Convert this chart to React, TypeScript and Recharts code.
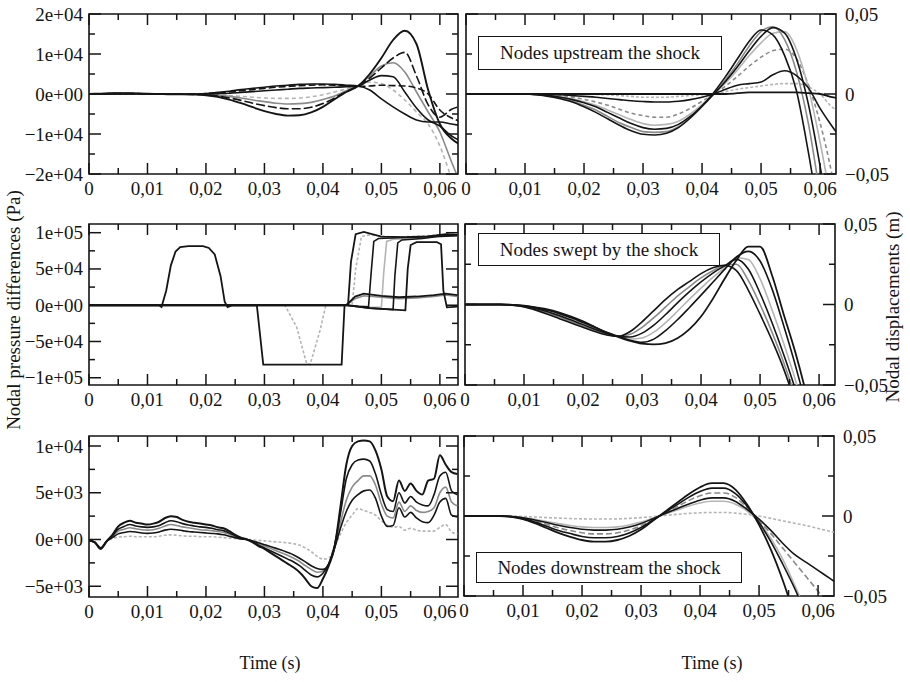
import React from 'react';
import {LineChart, Line, XAxis, YAxis, ReferenceArea} from 'recharts';

const FONT = '"Liberation Serif", "Times New Roman", serif';
const INK = '#151515';
const GREY = '#8a8a8a';
const PALE = '#b5b5b5';

// time grids (s)
const TIME_2MS = [
  0, 0.002, 0.004, 0.006, 0.008, 0.01, 0.012, 0.014, 0.016, 0.018, 0.02, 0.022, 0.024, 0.026, 0.028, 0.03, 0.032,
  0.034, 0.036, 0.038, 0.04, 0.042, 0.044, 0.046, 0.048, 0.05, 0.052, 0.054, 0.056, 0.058, 0.06, 0.062, 0.064
];
const TIME_1MS = [
  0, 0.001, 0.002, 0.003, 0.004, 0.005, 0.006, 0.007, 0.008, 0.009, 0.01, 0.011, 0.012, 0.013, 0.014, 0.015, 0.016,
  0.017, 0.018, 0.019, 0.02, 0.021, 0.022, 0.023, 0.024, 0.025, 0.026, 0.027, 0.028, 0.029, 0.03, 0.031, 0.032,
  0.033, 0.034, 0.035, 0.036, 0.037, 0.038, 0.039, 0.04, 0.041, 0.042, 0.043, 0.044, 0.045, 0.046, 0.047, 0.048,
  0.049, 0.05, 0.051, 0.052, 0.053, 0.054, 0.055, 0.056, 0.057, 0.058, 0.059, 0.06, 0.061, 0.062, 0.063
];

const TIME_TICKS = [0, 0.005, 0.01, 0.015, 0.02, 0.025, 0.03, 0.035, 0.04, 0.045, 0.05, 0.055, 0.06];
const UP_PRESSURE_TICKS = [-20000, -15000, -10000, -5000, 0, 5000, 10000, 15000, 20000];
const SWEPT_PRESSURE_TICKS = [-100000, -75000, -50000, -25000, 0, 25000, 50000, 75000, 100000];
const DOWN_PRESSURE_TICKS = [-5000, -2500, 0, 2500, 5000, 7500, 10000];
const DISP_TICKS = [-0.05, -0.025, 0, 0.025, 0.05];

// nodes upstream the shock: pressure differences (Pa), on TIME_2MS
const UP_P1 = [0, 100, 200, 200, 150, 100, 0, -100, -100, -150, -300, -700, -1400, -2300, -3300, -4300, -5000, -5400, -5300, -4600, -3200, -1300, 500, 2000, 5000, 9000, 13500, 15800, 12500, 1000, -7500, -11200, -13000];
const UP_P2 = [0, 50, 100, 100, 100, 50, 0, 0, -50, -100, -200, -500, -1000, -1600, -2300, -2900, -3400, -3700, -3700, -3300, -2400, -1000, 600, 2000, 4000, 6500, 9000, 10400, 4500, -2700, -5800, -3800, -3000];
const UP_P3 = [0, 50, 100, 100, 50, 0, 0, 0, -50, -50, -100, -300, -600, -1000, -1500, -1900, -2300, -2500, -2400, -2100, -1400, -500, 800, 2000, 4500, 7000, 7800, 5500, 500, -4500, -9500, -17000, -24000];
const UP_P4 = [0, 0, 100, 100, 100, 50, 0, -50, -50, -50, 0, 100, 200, 400, 600, 800, 1000, 1200, 1400, 1500, 1600, 1700, 1800, 2000, 3500, 4600, 4300, 500, -3500, -6500, -8000, -10500, -12000];
const UP_P5 = [0, 0, 50, 50, 50, 0, 0, -50, -50, 0, 100, 300, 500, 800, 1100, 1400, 1700, 1900, 2100, 2200, 2300, 2200, 2000, 1900, 2000, 2200, 2100, 2000, 1500, 0, -4000, -6000, -7000];
const UP_P6 = [0, 0, 50, 50, 50, 0, 0, -50, -50, 0, 100, 400, 700, 1100, 1400, 1700, 2000, 2200, 2400, 2500, 2500, 2400, 2200, 2000, 1000, -1200, -3200, -5000, -6500, -7000, -7000, -7500, -8000];
const UP_P7 = [0, 0, 50, 50, 50, 0, 0, 0, -50, -50, -100, -200, -400, -600, -800, -1000, -1100, -1100, -1000, -700, -200, 500, 1300, 2000, 3000, 2600, 1000, -1500, -4500, -7500, -13000, -21000, -28000];

// nodes upstream the shock: displacements (m), on TIME_2MS
const UP_D1 = [0, 0, 0, 0, 0, 0, -0.0005, -0.0015, -0.003, -0.005, -0.008, -0.0115, -0.0155, -0.0195, -0.023, -0.0252, -0.0256, -0.0245, -0.021, -0.015, -0.0075, 0.001, 0.011, 0.022, 0.033, 0.04, 0.037, 0.024, 0.002, -0.036, -0.08, -0.12, -0.16];
const UP_D2 = [0, 0, 0, 0, 0, 0, -0.0004, -0.0012, -0.0025, -0.0045, -0.007, -0.01, -0.014, -0.018, -0.021, -0.0235, -0.024, -0.0235, -0.0205, -0.015, -0.008, 0, 0.009, 0.019, 0.03, 0.039, 0.042, 0.034, 0.014, -0.018, -0.062, -0.1, -0.14];
const UP_D3 = [0, 0, 0, 0, 0, 0, -0.0003, -0.001, -0.002, -0.0035, -0.0055, -0.008, -0.0115, -0.015, -0.0185, -0.021, -0.022, -0.0215, -0.019, -0.014, -0.0075, 0, 0.008, 0.017, 0.027, 0.036, 0.0415, 0.038, 0.022, -0.006, -0.045, -0.09, -0.13];
const UP_D4 = [0, 0, 0, 0, 0, 0, -0.0003, -0.0008, -0.0017, -0.003, -0.0048, -0.007, -0.01, -0.013, -0.016, -0.0185, -0.0195, -0.019, -0.017, -0.0125, -0.0065, 0, 0.007, 0.015, 0.024, 0.032, 0.038, 0.039, 0.028, 0.004, -0.03, -0.07, -0.11];
const UP_D5 = [0, 0, 0, 0, 0, 0, -0.0002, -0.0005, -0.001, -0.002, -0.0033, -0.005, -0.007, -0.0095, -0.012, -0.0135, -0.0145, -0.0145, -0.0125, -0.009, -0.0045, 0, 0.005, 0.011, 0.0175, 0.023, 0.027, 0.028, 0.022, 0.006, -0.018, -0.05, -0.09];
const UP_D6 = [0, 0, 0, 0, 0, 0, 0, -0.0002, -0.0005, -0.001, -0.0015, -0.002, -0.0028, -0.0035, -0.0042, -0.0047, -0.005, -0.005, -0.0045, -0.0035, -0.002, 0, 0.003, 0.0055, 0.0065, 0.0075, 0.012, 0.0145, 0.0115, 0.004, -0.009, -0.02, -0.03];
const UP_D7 = [0, 0, 0, 0, 0, 0, 0, 0, 0, 0, 0, -0.0003, -0.0005, -0.001, -0.0015, -0.002, -0.002, -0.002, -0.0015, -0.001, -0.0005, 0, 0.0015, 0.003, 0.004, 0.005, 0.006, 0.0065, 0.0065, 0.0045, 0, -0.008, -0.012];
const UP_D8 = [0, 0, 0, 0, 0, 0, 0, 0, 0, 0, 0, 0, 0, 0, 0, 0, 0, 0, 0, 0, 0, 0, 0, 0.0005, 0.001, 0.001, 0.001, 0.001, 0.001, 0.0005, 0, -0.002, -0.003];

// nodes swept by the shock: pressure differences (Pa), each with its own times
const SW_P1_T = [0, 0.012, 0.0124, 0.0132, 0.014, 0.0148, 0.0156, 0.017, 0.0195, 0.0205, 0.0215, 0.0225, 0.0232, 0.0237, 0.0245, 0.044, 0.0455, 0.047, 0.05, 0.053, 0.056, 0.059, 0.061, 0.063];
const SW_P1_V = [0, 0, -2500, 20000, 55000, 74000, 80000, 81500, 81500, 79000, 70000, 40000, 5000, -2500, 0, 0, 12000, 16000, 13000, 11000, 12000, 14000, 16000, 14000];
const SW_P2_T = [0, 0.0287, 0.0298, 0.0432, 0.0437, 0.0443, 0.0448, 0.0456, 0.047, 0.05, 0.054, 0.058, 0.061, 0.063];
const SW_P2_V = [0, 0, -82000, -82000, 0, 1000, 60000, 98000, 101000, 94500, 94000, 95000, 98000, 97000];
const SW_P3_T = [0, 0.0335, 0.0355, 0.0372, 0.0378, 0.0395, 0.0405, 0.045, 0.0456, 0.0466, 0.048, 0.052, 0.056, 0.06, 0.063];
const SW_P3_V = [0, 0, -30000, -80000, -82000, -35000, 0, 0, 50000, 95000, 97000, 94000, 95000, 97000, 98000];
const SW_P4_T = [0, 0.044, 0.046, 0.0478, 0.0482, 0.0487, 0.0495, 0.053, 0.057, 0.06, 0.063];
const SW_P4_V = [0, 0, -1500, -2000, 40000, 88000, 92000, 93000, 94000, 96000, 97000];
const SW_P5_T = [0, 0.044, 0.048, 0.05, 0.0504, 0.0509, 0.052, 0.056, 0.06, 0.063];
const SW_P5_V = [0, 0, -2500, -3000, 45000, 88000, 91000, 92000, 95000, 96000];
const SW_P6_T = [0, 0.044, 0.048, 0.052, 0.0523, 0.0528, 0.0535, 0.057, 0.06, 0.063];
const SW_P6_V = [0, 0, -4000, -6000, 40000, 86000, 90000, 92000, 95000, 96000];
const SW_P7_T = [0, 0.044, 0.048, 0.0541, 0.0545, 0.055, 0.056, 0.0595, 0.0602, 0.0606, 0.0612, 0.063];
const SW_P7_V = [0, 0, -4000, -7000, 50000, 83000, 87000, 87000, 84000, 20000, -3000, -2000];
const SW_P8_T = [0, 0.044, 0.0455, 0.047, 0.05, 0.053, 0.056, 0.059, 0.061, 0.063];
const SW_P8_V = [0, 0, 9000, 13000, 11000, 9000, 10000, 12000, 14000, 12000];

// nodes swept by the shock: displacements (m), on TIME_2MS
const SW_D1 = [0, 0, 0, 0, -0.0005, -0.0015, -0.0035, -0.006, -0.0088, -0.0115, -0.0142, -0.0168, -0.019, -0.0198, -0.0168, -0.0108, -0.0038, 0.0032, 0.0092, 0.0142, 0.0192, 0.0228, 0.0243, 0.021, 0.009, -0.006, -0.022, -0.04, -0.062, -0.09, -0.12, -0.15, -0.18];
const SW_D2 = [0, 0, 0, 0, -0.0004, -0.0012, -0.003, -0.0052, -0.0078, -0.0105, -0.0133, -0.016, -0.0185, -0.0198, -0.0185, -0.0142, -0.0082, -0.0015, 0.0052, 0.011, 0.0165, 0.021, 0.0243, 0.025, 0.015, 0, -0.017, -0.036, -0.058, -0.085, -0.115, -0.145, -0.175];
const SW_D3 = [0, 0, 0, 0, -0.0003, -0.001, -0.0025, -0.0045, -0.007, -0.0097, -0.0125, -0.0153, -0.018, -0.0198, -0.0202, -0.0178, -0.0128, -0.0062, 0.001, 0.0078, 0.014, 0.0195, 0.024, 0.028, 0.022, 0.007, -0.011, -0.031, -0.053, -0.08, -0.11, -0.14, -0.17];
const SW_D4 = [0, 0, 0, 0, -0.0003, -0.0009, -0.0022, -0.004, -0.0063, -0.009, -0.0118, -0.0147, -0.0175, -0.0198, -0.0214, -0.0208, -0.0172, -0.0112, -0.0042, 0.0032, 0.0102, 0.0168, 0.023, 0.029, 0.028, 0.016, -0.003, -0.024, -0.047, -0.074, -0.105, -0.135, -0.165];
const SW_D5 = [0, 0, 0, 0, -0.0002, -0.0008, -0.002, -0.0036, -0.0057, -0.0083, -0.0112, -0.0142, -0.0172, -0.0198, -0.0222, -0.0235, -0.0215, -0.0162, -0.0095, -0.002, 0.0058, 0.0138, 0.0218, 0.0295, 0.033, 0.027, 0.01, -0.013, -0.038, -0.066, -0.098, -0.13, -0.16];
const SW_D6 = [0, 0, 0, 0, -0.0002, -0.0007, -0.0018, -0.003, -0.005, -0.0075, -0.0105, -0.014, -0.0175, -0.0202, -0.0226, -0.0243, -0.0248, -0.024, -0.021, -0.0155, -0.0075, 0.0035, 0.016, 0.0275, 0.036, 0.036, 0.0185, -0.006, -0.03, -0.058, -0.09, -0.12, -0.15];

// nodes downstream the shock: pressure differences (Pa), on TIME_1MS
const DN_P1 = [-100, -300, -1000, -200, 500, 1400, 1800, 2000, 1800, 1700, 1600, 1700, 1900, 2300, 2500, 2400, 2100, 1900, 1800, 1700, 1600, 1500, 1300, 1200, 900, 500, 200, 0, -300, -700, -1000, -1400, -1800, -2200, -2600, -3000, -3500, -4200, -5000, -5200, -4200, -2800, -800, 3500, 8000, 10000, 10500, 10600, 10500, 9500, 7500, 4600, 4100, 6300, 5200, 6000, 5200, 4800, 6300, 6500, 9000, 8000, 7200, 7000];
const DN_P2 = [-100, -300, -1000, -200, 400, 1100, 1400, 1600, 1450, 1350, 1300, 1350, 1500, 1800, 2000, 1900, 1700, 1550, 1450, 1350, 1300, 1200, 1050, 950, 700, 400, 150, 0, -250, -600, -900, -1200, -1500, -1800, -2100, -2400, -2800, -3300, -3800, -4000, -3600, -2600, -600, 2800, 6500, 8000, 8500, 8600, 8400, 7000, 4800, 3200, 3000, 5000, 3900, 4600, 4000, 3700, 3600, 4800, 6800, 7200, 5200, 4800];
const DN_P3 = [-100, -300, -900, -200, 300, 900, 1100, 1250, 1150, 1050, 1000, 1050, 1200, 1450, 1600, 1500, 1350, 1250, 1150, 1050, 1000, 950, 850, 750, 550, 300, 100, 0, -200, -450, -700, -950, -1200, -1450, -1700, -2000, -2350, -2800, -3200, -3500, -3400, -2600, -800, 1800, 4200, 5600, 6300, 6800, 6800, 5800, 3800, 2500, 2300, 4000, 3000, 3600, 3100, 2900, 3000, 3400, 5000, 5600, 4000, 3600];
const DN_P4 = [-100, -300, -900, -200, 200, 600, 750, 850, 800, 700, 650, 700, 800, 1000, 1100, 1050, 950, 850, 800, 750, 700, 650, 600, 500, 350, 200, 50, 0, -150, -350, -550, -750, -950, -1150, -1400, -1650, -2000, -2400, -2800, -3100, -3200, -2600, -900, 1200, 3000, 4200, 4800, 5200, 5300, 4400, 2500, 1400, 1500, 3400, 2400, 2900, 2300, 1900, 1800, 2600, 4000, 4400, 2600, 2400];
const DN_P5 = [-100, -300, -800, -200, 100, 250, 300, 350, 300, 300, 300, 300, 350, 450, 500, 450, 400, 350, 350, 300, 300, 300, 250, 200, 150, 100, 50, 0, -50, -100, -150, -200, -250, -300, -350, -450, -600, -900, -1300, -1800, -2100, -2000, -800, 600, 1800, 2600, 3300, 3100, 2900, 2600, 2000, 1500, 1300, 1400, 1000, 1200, 1000, 900, 900, 900, 1300, 1600, 800, 600];

// nodes downstream the shock: displacements (m), on TIME_2MS
const DN_D1 = [0, 0, 0, 0, -0.0005, -0.002, -0.0045, -0.0075, -0.0105, -0.013, -0.015, -0.016, -0.016, -0.015, -0.0125, -0.0085, -0.003, 0.0025, 0.008, 0.0135, 0.018, 0.0205, 0.0205, 0.0165, 0.007, -0.0055, -0.021, -0.04, -0.062, -0.085, -0.11, -0.135, -0.16];
const DN_D2 = [0, 0, 0, 0, -0.0004, -0.0017, -0.0038, -0.0064, -0.009, -0.011, -0.0128, -0.0136, -0.0136, -0.0128, -0.0106, -0.0072, -0.0026, 0.0021, 0.0068, 0.0115, 0.0153, 0.0174, 0.0174, 0.014, 0.006, -0.004, -0.016, -0.03, -0.045, -0.062, -0.08, -0.1, -0.12];
const DN_D3 = [0, 0, 0, 0, -0.0003, -0.0014, -0.0031, -0.0052, -0.0074, -0.0091, -0.0105, -0.0112, -0.0112, -0.0105, -0.0088, -0.006, -0.0021, 0.0017, 0.0056, 0.0095, 0.0126, 0.0144, 0.0144, 0.0116, 0.005, -0.003, -0.011, -0.02, -0.029, -0.038, -0.047, -0.056, -0.065];
const DN_D4 = [0, 0, 0, 0, -0.0003, -0.0011, -0.0025, -0.0041, -0.0058, -0.0072, -0.0083, -0.0088, -0.0088, -0.0083, -0.0069, -0.0047, -0.0017, 0.0014, 0.0044, 0.0074, 0.0099, 0.0113, 0.0113, 0.0091, 0.004, -0.002, -0.009, -0.017, -0.024, -0.029, -0.034, -0.039, -0.044];
const DN_D5 = [0, 0, 0, 0, -0.0002, -0.0009, -0.002, -0.0034, -0.0047, -0.0059, -0.0068, -0.0072, -0.0072, -0.0068, -0.0056, -0.0038, -0.0014, 0.0011, 0.0036, 0.0061, 0.0081, 0.0092, 0.0092, 0.0074, 0.003, -0.004, -0.014, -0.027, -0.043, -0.06, -0.08, -0.1, -0.12];
const DN_D6 = [0, 0, 0, 0, 0, -0.0003, -0.0006, -0.001, -0.0013, -0.0016, -0.0018, -0.0019, -0.0019, -0.0018, -0.0015, -0.001, -0.0004, 0.0003, 0.001, 0.0016, 0.002, 0.0022, 0.0022, 0.0018, 0.001, 0, -0.0015, -0.003, -0.0045, -0.006, -0.0078, -0.0095, -0.011];

type Curve = {t: number[]; v: number[]; color: string; width?: number; dash?: string};

const isMajor = (v: number, step: number) => Math.abs(v / step - Math.round(v / step)) < 1e-6;

const fmtTime = (v: number) => (v === 0 ? '0' : v.toFixed(2).replace('.', ','));
const fmtDisp = (v: number) => (v === 0 ? '0' : (v < 0 ? '\u2212' : '') + Math.abs(v).toFixed(2).replace('.', ','));
const fmtSci = (v: number) => {
  if (v === 0) return '0e+00';
  const a = Math.abs(v);
  const e = Math.floor(Math.log10(a) + 1e-9);
  const m = Math.round(a / Math.pow(10, e));
  return (v < 0 ? '\u2212' : '') + m + 'e+' + String(e).padStart(2, '0');
};

const labelStyle = {fontFamily: FONT, fontSize: 19, fill: INK};

type PanelProps = {
  x: number;
  y: number;
  w: number;
  h: number;
  side: 'left' | 'right';
  xMax: number;
  yDomain: [number, number];
  yTicks: number[];
  yStep: number;
  yFormat: (v: number) => string;
  curves: Curve[];
  shape: 'monotone' | 'linear';
};

const PAD_TOP = 16;

function Panel({x, y, w, h, side, xMax, yDomain, yTicks, yStep, yFormat, curves, shape}: PanelProps) {
  const left = side === 'left';
  const padL = left ? 86 : 24;
  const yW = left ? 80 : 66;
  const chartW = left ? padL + w + 6 : padL + w + yW + 4;
  const chartH = PAD_TOP + h + 34;

  const xTick = (p: any) => {
    const v = p.payload.value as number;
    const major = isMajor(v, 0.01);
    const len = major ? 11 : 6;
    return (
      <g>
        <line x1={p.x} y1={p.y} x2={p.x} y2={p.y - len} stroke={INK} strokeWidth={1.5} />
        <line x1={p.x} y1={p.y - h} x2={p.x} y2={p.y - h + len} stroke={INK} strokeWidth={1.5} />
        {major && (
          <text x={p.x} y={p.y + 21} textAnchor="middle" {...labelStyle}>
            {fmtTime(v)}
          </text>
        )}
      </g>
    );
  };

  const yTick = (p: any) => {
    const v = p.payload.value as number;
    const major = isMajor(v, yStep);
    const len = major ? 12 : 6;
    const dir = left ? 1 : -1;
    const other = p.x + dir * w;
    return (
      <g>
        <line x1={p.x} y1={p.y} x2={p.x + dir * len} y2={p.y} stroke={INK} strokeWidth={1.5} />
        <line x1={other} y1={p.y} x2={other - dir * len} y2={p.y} stroke={INK} strokeWidth={1.5} />
        {major && (
          <text x={p.x - dir * (left ? 6 : 9)} y={p.y} dy={6.5} textAnchor={left ? 'end' : 'start'} {...labelStyle}>
            {yFormat(v)}
          </text>
        )}
      </g>
    );
  };

  return (
    <div style={{position: 'absolute', left: x - padL, top: y - PAD_TOP}}>
      <LineChart width={chartW} height={chartH} margin={{top: PAD_TOP, right: left ? 6 : 4, bottom: 4, left: left ? padL - yW : padL}}>
        <XAxis
          dataKey="t"
          type="number"
          domain={[0, xMax]}
          allowDataOverflow
          ticks={TIME_TICKS}
          interval={0}
          height={30}
          tickSize={0}
          tickMargin={0}
          tickLine={false}
          axisLine={false}
          tick={xTick}
        />
        <YAxis
          type="number"
          orientation={side}
          domain={yDomain}
          allowDataOverflow
          ticks={yTicks}
          interval={0}
          width={yW}
          tickSize={0}
          tickMargin={0}
          tickLine={false}
          axisLine={false}
          tick={yTick}
        />
        {curves.map((c, i) => (
          <Line
            key={i}
            data={c.t.map((t, k) => ({t, v: c.v[k]}))}
            dataKey="v"
            type={shape}
            stroke={c.color}
            strokeWidth={c.width ?? 1.6}
            strokeDasharray={c.dash}
            dot={false}
            activeDot={false}
            isAnimationActive={false}
          />
        ))}
        <ReferenceArea x1={0} x2={xMax} y1={yDomain[0]} y2={yDomain[1]} fill="none" stroke={INK} strokeWidth={1.6} ifOverflow="visible" />
      </LineChart>
    </div>
  );
}

const upPressure: Curve[] = [
  {t: TIME_2MS, v: UP_P7, color: PALE, dash: '4 3'},
  {t: TIME_2MS, v: UP_P3, color: GREY},
  {t: TIME_2MS, v: UP_P5, color: INK, dash: '7 3'},
  {t: TIME_2MS, v: UP_P6, color: INK},
  {t: TIME_2MS, v: UP_P4, color: INK},
  {t: TIME_2MS, v: UP_P2, color: INK, dash: '9 3'},
  {t: TIME_2MS, v: UP_P1, color: INK, width: 1.9}
];
const upDisp: Curve[] = [
  {t: TIME_2MS, v: UP_D7, color: PALE, dash: '3 2'},
  {t: TIME_2MS, v: UP_D5, color: GREY, dash: '4 3'},
  {t: TIME_2MS, v: UP_D4, color: PALE},
  {t: TIME_2MS, v: UP_D2, color: GREY},
  {t: TIME_2MS, v: UP_D8, color: INK, width: 1.8},
  {t: TIME_2MS, v: UP_D6, color: INK},
  {t: TIME_2MS, v: UP_D3, color: INK},
  {t: TIME_2MS, v: UP_D1, color: INK}
];
const sweptPressure: Curve[] = [
  {t: SW_P3_T, v: SW_P3_V, color: PALE, dash: '3 2'},
  {t: SW_P5_T, v: SW_P5_V, color: PALE},
  {t: SW_P8_T, v: SW_P8_V, color: GREY},
  {t: SW_P1_T, v: SW_P1_V, color: INK, width: 1.8},
  {t: SW_P2_T, v: SW_P2_V, color: INK, width: 1.8},
  {t: SW_P4_T, v: SW_P4_V, color: INK},
  {t: SW_P6_T, v: SW_P6_V, color: INK},
  {t: SW_P7_T, v: SW_P7_V, color: INK, width: 1.8}
];
const sweptDisp: Curve[] = [
  {t: TIME_2MS, v: SW_D2, color: GREY},
  {t: TIME_2MS, v: SW_D4, color: PALE},
  {t: TIME_2MS, v: SW_D1, color: INK},
  {t: TIME_2MS, v: SW_D3, color: INK},
  {t: TIME_2MS, v: SW_D5, color: INK},
  {t: TIME_2MS, v: SW_D6, color: INK, width: 1.8}
];
const downPressure: Curve[] = [
  {t: TIME_1MS, v: DN_P5, color: PALE, dash: '3 2'},
  {t: TIME_1MS, v: DN_P3, color: GREY},
  {t: TIME_1MS, v: DN_P4, color: INK},
  {t: TIME_1MS, v: DN_P2, color: INK},
  {t: TIME_1MS, v: DN_P1, color: INK, width: 2}
];
const downDisp: Curve[] = [
  {t: TIME_2MS, v: DN_D6, color: PALE, dash: '3 2'},
  {t: TIME_2MS, v: DN_D5, color: PALE},
  {t: TIME_2MS, v: DN_D3, color: GREY, dash: '6 3'},
  {t: TIME_2MS, v: DN_D4, color: INK},
  {t: TIME_2MS, v: DN_D2, color: INK},
  {t: TIME_2MS, v: DN_D1, color: INK, width: 1.8}
];

const boxStyle = (left: number, top: number, width: number, height: number): React.CSSProperties => ({
  position: 'absolute',
  left,
  top,
  width,
  height,
  boxSizing: 'border-box',
  border: `1.6px solid ${INK}`,
  background: '#fff',
  display: 'flex',
  alignItems: 'center',
  justifyContent: 'center',
  fontFamily: FONT,
  fontSize: 19,
  color: INK,
  whiteSpace: 'nowrap'
});

const titleStyle = (cx: number, cy: number, rotate: number): React.CSSProperties => ({
  position: 'absolute',
  left: cx,
  top: cy,
  transform: `translate(-50%, -50%) rotate(${rotate}deg)`,
  fontFamily: FONT,
  fontSize: 19,
  color: INK,
  whiteSpace: 'nowrap'
});

export default function App() {
  return (
    <div style={{position: 'absolute', left: 0, top: 0, width: 910, height: 682, background: '#fff', overflow: 'hidden'}}>
      <Panel x={89} y={14} w={369} h={160} side="left" xMax={0.0631} yDomain={[-20000, 20000]} yTicks={UP_PRESSURE_TICKS} yStep={10000} yFormat={fmtSci} curves={upPressure} shape="monotone" />
      <Panel x={466} y={14} w={370} h={160} side="right" xMax={0.0627} yDomain={[-0.05, 0.05]} yTicks={DISP_TICKS} yStep={0.05} yFormat={fmtDisp} curves={upDisp} shape="monotone" />
      <Panel x={89} y={224} w={369} h={161} side="left" xMax={0.0631} yDomain={[-110000, 112000]} yTicks={SWEPT_PRESSURE_TICKS} yStep={50000} yFormat={fmtSci} curves={sweptPressure} shape="linear" />
      <Panel x={465} y={224} w={370} h={161} side="right" xMax={0.0627} yDomain={[-0.05, 0.05]} yTicks={DISP_TICKS} yStep={0.05} yFormat={fmtDisp} curves={sweptDisp} shape="monotone" />
      <Panel x={89} y={436} w={369} h={161} side="left" xMax={0.0631} yDomain={[-6150, 11070]} yTicks={DOWN_PRESSURE_TICKS} yStep={5000} yFormat={fmtSci} curves={downPressure} shape="monotone" />
      <Panel x={464} y={436} w={370} h={160} side="right" xMax={0.0627} yDomain={[-0.05, 0.05]} yTicks={DISP_TICKS} yStep={0.05} yFormat={fmtDisp} curves={downDisp} shape="monotone" />

      <div style={boxStyle(478, 36, 244, 34)}>Nodes upstream the shock</div>
      <div style={boxStyle(478, 233, 242, 33)}>Nodes swept by the shock</div>
      <div style={boxStyle(476, 552, 266, 31)}>Nodes downstream the shock</div>

      <div style={titleStyle(14, 310, -90)}>Nodal pressure differences (Pa)</div>
      <div style={titleStyle(893, 307, -90)}>Nodal displacements (m)</div>
      <div style={{...titleStyle(270, 663, 0), fontSize: 18}}>Time (s)</div>
      <div style={{...titleStyle(712, 663, 0), fontSize: 18}}>Time (s)</div>
    </div>
  );
}
